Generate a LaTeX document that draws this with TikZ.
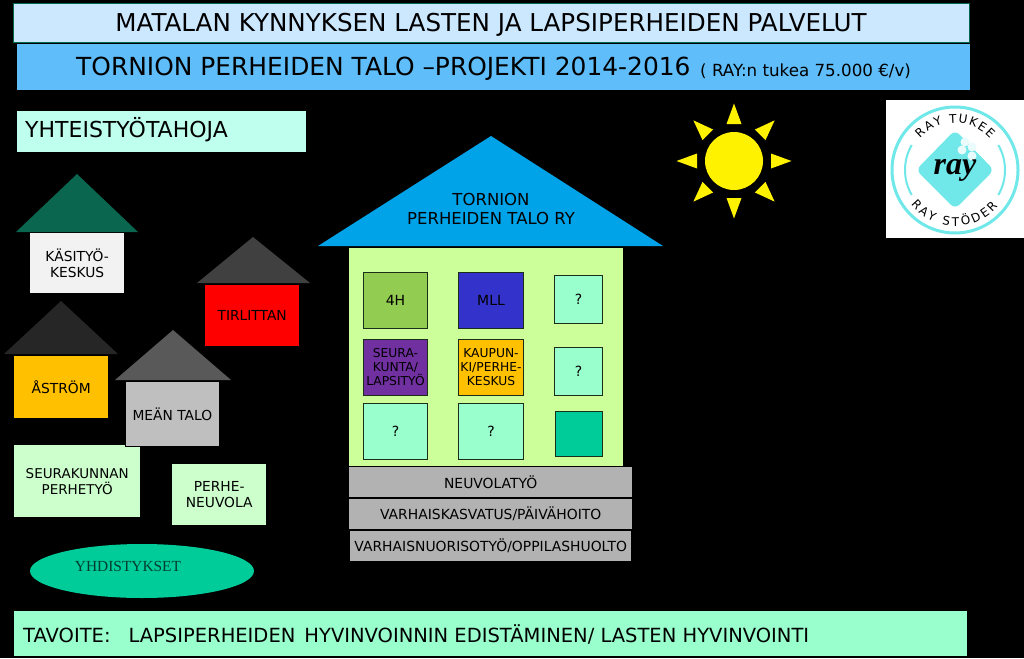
\documentclass[tikz,border=0pt]{standalone}
\usepackage{fontspec}
\setmainfont{DejaVu Sans}
\newfontfamily\rayserif{Liberation Serif}
\usetikzlibrary{decorations.text}

\definecolor{palvelut}{HTML}{CCE8FF}
\definecolor{projekti}{HTML}{5FBEFA}
\definecolor{tahoja}{HTML}{BFFFEE}
\definecolor{mint}{HTML}{99FFCC}
\definecolor{teal}{HTML}{00CC99}
\definecolor{katto}{HTML}{00A2E8}
\definecolor{seina}{HTML}{CCFF99}
\definecolor{rengas}{HTML}{70E8EA}
\definecolor{vaalea}{HTML}{CCFFCC}
\definecolor{oranssi}{HTML}{FFC000}
\definecolor{reuna}{HTML}{1A2E1A}
\definecolor{harmaa}{HTML}{B2B2B2}
\definecolor{nelihoo}{HTML}{92CC50}
\definecolor{sininen}{HTML}{3333CC}
\definecolor{violetti}{HTML}{7030A0}
\definecolor{metsa}{HTML}{0B6650}

\tikzset{
  box/.style={inner sep=0pt, align=center, text=black, font=\fontsize{13.8}{16}\selectfont},
  room/.style={box, draw=reuna, line width=1pt, font=\fontsize{14}{14}\selectfont},
  bar/.style={box, fill=harmaa, font=\fontsize{13.9}{16}\selectfont},
  sunray/.style={fill=yellow}
}

% laatikko: nimi, vasen, yla, leveys, korkeus, tyyli, teksti
\newcommand{\talobox}[7]{%
  \node[box, minimum width=#4pt, minimum height=#5pt, anchor=north west, #6] (#1) at (#2,#3) {#7};}

\begin{document}
\begin{tikzpicture}[x=1pt, y=-1pt]
  \useasboundingbox (0,0) rectangle (1024,658);
  \fill[black] (0,0) rectangle (1024,658);

  % otsikot
  \talobox{palvelut}{13}{3}{956}{39}{fill=palvelut, draw=teal!50!black}{}
  \node[box, anchor=base, font=\fontsize{24.6}{28}\selectfont] (palvelutname) at (491,32) {MATALAN KYNNYKSEN LASTEN JA LAPSIPERHEIDEN PALVELUT};
  \talobox{projekti}{17}{44}{953}{46}{fill=projekti}{}
  \node[box, anchor=base west, font=\fontsize{24.9}{28}\selectfont] (projektiname) at (76,76) {TORNION PERHEIDEN TALO –PROJEKTI 2014-2016};
  \node[box, anchor=base west, font=\fontsize{16.7}{20}\selectfont] (raytuki) at (700,76.5) {( RAY:n tukea 75.000 €/v)};
  \talobox{tahoja}{17}{111}{289}{41}{fill=tahoja}{}
  \node[box, anchor=base west, font=\fontsize{22}{24}\selectfont] (tahojaname) at (25,137) {YHTEISTYÖTAHOJA};

  % iso talo
  \fill[katto] (318,246) -- (491,136) -- (663,246) -- cycle;
  \node[box, font=\fontsize{16.5}{19}\selectfont] (taloname) at (491,209) {TORNION\\PERHEIDEN TALO RY};
  \fill[seina] (349,248) rectangle (623,466);

  \talobox{neljah}{363}{272}{64}{56}{room, fill=nelihoo}{4H}
  \talobox{mll}{458}{272}{65}{56}{room, fill=sininen}{MLL}
  \talobox{kysa}{554}{275}{48}{48}{room, fill=mint}{?}
  \talobox{seura}{363}{339}{64}{56}{room, fill=violetti, font=\fontsize{12.3}{14}\selectfont}{SEURA-\\KUNTA/\\LAPSITYÖ}
  \talobox{kaupunki}{458}{339}{65}{56}{room, fill=oranssi, font=\fontsize{12.3}{14}\selectfont}{KAUPUN-\\KI/PERHE-\\KESKUS}
  \talobox{kysb}{554}{347}{48}{48}{room, fill=mint}{?}
  \talobox{kysc}{363}{403}{64}{56}{room, fill=mint}{?}
  \talobox{kysd}{458}{403}{65}{56}{room, fill=mint}{?}
  \talobox{tyhja}{555}{411}{47}{45}{room, fill=teal}{}

  \talobox{neuvola}{349}{467}{283}{30}{bar}{NEUVOLATYÖ}
  \talobox{varhais}{349}{499}{283}{30}{bar}{VARHAISKASVATUS/PÄIVÄHOITO}
  \talobox{nuoriso}{350}{531}{281}{30}{bar}{VARHAISNUORISOTYÖ/OPPILASHUOLTO}

  % pienet talot
  \fill[metsa] (16,232) -- (77,174) -- (138,232) -- cycle;
  \talobox{kasityo}{30}{233}{94}{60}{fill=black!5}{KÄSITYÖ-\\KESKUS}

  \fill[black!75] (197,283) -- (253,237) -- (310,283) -- cycle;
  \talobox{tirlittan}{205}{285}{94}{61}{fill=red}{TIRLITTAN}

  \fill[black!85] (4,354) -- (61,301) -- (118,354) -- cycle;
  \talobox{astrom}{14}{356}{94}{62}{fill=oranssi}{ÅSTRÖM}

  \talobox{perhetyo}{14}{445}{126}{72}{fill=vaalea, font=\fontsize{13.5}{16}\selectfont}{SEURAKUNNAN\\PERHETYÖ}
  \talobox{neuvolaa}{172}{464}{94}{61}{fill=vaalea}{PERHE-\\NEUVOLA}

  \fill[black!65] (115,380) -- (173,330) -- (231,380) -- cycle;
  \talobox{meantalo}{125}{381}{94}{65}{fill=black!25, draw=black, line width=0.7pt}{MEÄN TALO}

  \fill[teal] (142,571) ellipse [x radius=112, y radius=27];
  \node[box, font=\rayserif\fontsize{15.4}{17}\selectfont, text=teal!30!black] (yhdistykset) at (128,566) {YHDISTYKSET};

  % aurinko
  \foreach \a in {0,45,...,315} {
    \fill[sunray, rotate around={\a:(734,161)}] (734,103.5) -- (726.5,124) -- (741.5,124) -- cycle;
  }
  \fill[sunray] (734,161) circle (29);

  % tavoite
  \talobox{tavoite}{14}{611}{953}{45}{fill=mint}{}
  \node[box, anchor=base west, font=\fontsize{19.5}{22}\selectfont] (tavoitename) at (23,642) {TAVOITE:\hspace{18pt}LAPSIPERHEIDEN\hspace{9pt}HYVINVOINNIN EDISTÄMINEN/ LASTEN HYVINVOINTI};

  % logo
  \fill[white] (886,100) rectangle (1024,238);
  \begin{scope}[shift={(955,170)}, y=1pt]
    \draw[rengas, line width=3pt] (0,0) circle (63);
    \draw[rengas, line width=2pt] (150:50) arc (150:210:50);
    \draw[rengas, line width=2pt] (-30:50) arc (-30:30:50);
    \fill[rengas, rounded corners=6pt] (0,40) -- (39,0) -- (0,-39) -- (-39,0) -- cycle;
    \foreach \x/\y in {10/28, 7/20, 17/23, 17/14} {
      \fill[white!85!rengas] (\x,\y) circle (4.5);
    }
    \node[box, font=\rayserif\bfseries\itshape\fontsize{32}{32}\selectfont] (rayname) at (0,0) {ray};
    \path[decorate, decoration={text along path, text align=fit to path,
      text={|\fontsize{12}{12}\selectfont|RAY TUKEE}}] (138:47) arc (138:42:47);
    \path[decorate, decoration={text along path, text align=fit to path,
      text={|\fontsize{12}{12}\selectfont|RAY STÖDER}}] (218:56) arc (218:320:56);
  \end{scope}
\end{tikzpicture}
\end{document}
